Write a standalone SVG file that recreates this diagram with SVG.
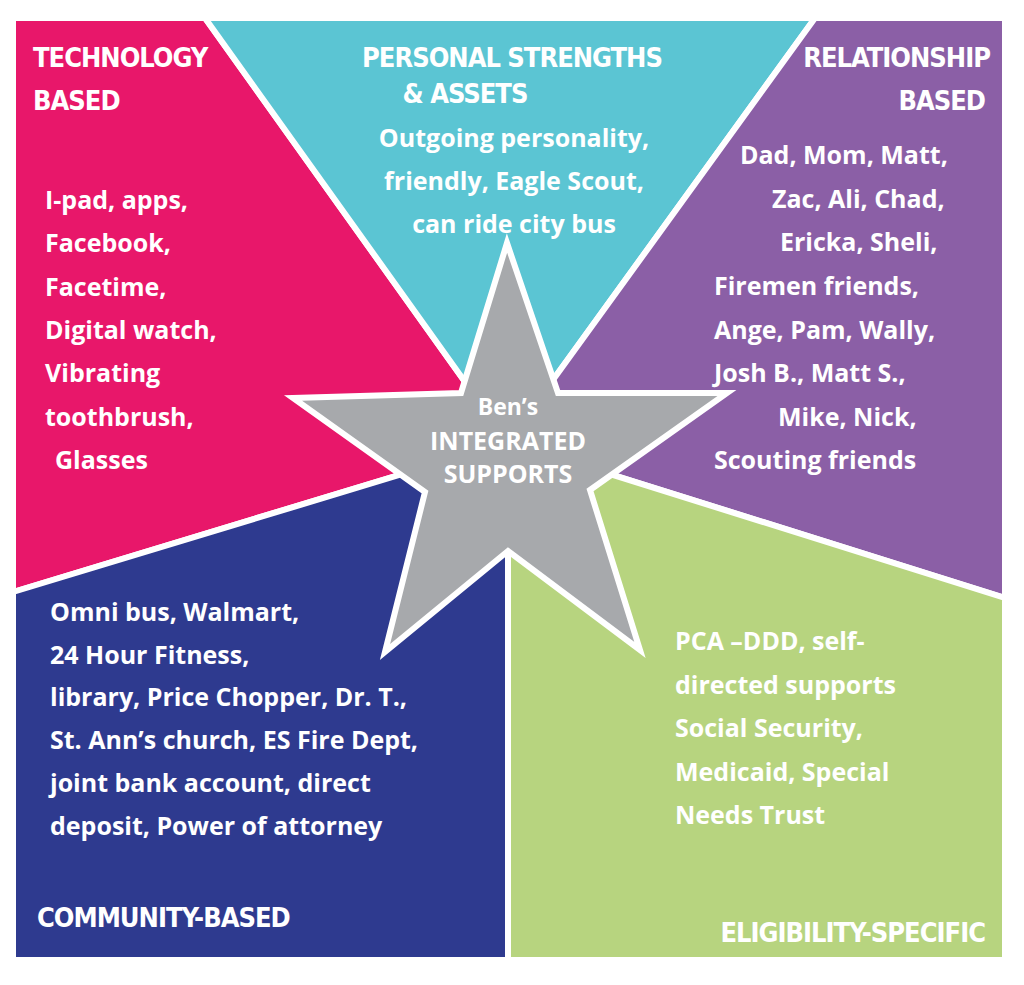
<svg xmlns="http://www.w3.org/2000/svg" width="1024" height="985" viewBox="0 0 1024 985">
<style>
.p{stroke:#fff;stroke-width:6;stroke-linejoin:miter}
.b{font-family:"Open Sans","DejaVu Sans",sans-serif;font-weight:bold;font-size:25px;fill:#fff}
.h{font-family:"DejaVu Sans Condensed","Liberation Sans Narrow",sans-serif;font-weight:bold;font-size:27px;fill:#fff;letter-spacing:-1px}
.s{font-family:"Open Sans","DejaVu Sans",sans-serif;font-weight:bold;fill:#fff;text-anchor:middle}
</style>
<rect width="1024" height="985" fill="#fff"/>
<g id="technology">
<polygon class="p" fill="#E8176A" points="13,18 205,18 508,442 13,592"/>
<text class="h" x="33" y="67">TECHNOLOGY</text>
<text class="h" x="33" y="110">BASED</text>
<text class="b" x="45" y="209">I-pad, apps,</text>
<text class="b" x="45" y="252">Facebook,</text>
<text class="b" x="45" y="296">Facetime,</text>
<text class="b" x="45" y="339">Digital watch,</text>
<text class="b" x="45" y="382">Vibrating</text>
<text class="b" x="45" y="426">toothbrush,</text>
<text class="b" x="55" y="469">Glasses</text>
</g>
<g id="personal">
<polygon class="p" fill="#5BC5D3" points="205,18 815,18 508,442"/>
<text class="h" x="512" y="67" text-anchor="middle">PERSONAL STRENGTHS</text>
<text class="h" x="465" y="103" text-anchor="middle">&amp; ASSETS</text>
<text class="b" x="514" y="147" text-anchor="middle">Outgoing personality,</text>
<text class="b" x="514" y="190" text-anchor="middle">friendly, Eagle Scout,</text>
<text class="b" x="514" y="233" text-anchor="middle">can ride city bus</text>
</g>
<g id="relationship">
<polygon class="p" fill="#8B5FA6" points="815,18 1005,18 1005,598 508,442"/>
<text class="h" x="990" y="67" text-anchor="end">RELATIONSHIP</text>
<text class="h" x="985" y="110" text-anchor="end">BASED</text>
<text class="b" x="740" y="164">Dad, Mom, Matt,</text>
<text class="b" x="772" y="208">Zac, Ali, Chad,</text>
<text class="b" x="780" y="251">Ericka, Sheli,</text>
<text class="b" x="714" y="295">Firemen friends,</text>
<text class="b" x="714" y="339">Ange, Pam, Wally,</text>
<text class="b" x="714" y="382">Josh B., Matt S.,</text>
<text class="b" x="778" y="426">Mike, Nick,</text>
<text class="b" x="714" y="469">Scouting friends</text>
</g>
<g id="eligibility">
<polygon class="p" fill="#B7D47F" points="508,442 1005,598 1005,960 508,960"/>
<text class="b" x="675" y="650">PCA –DDD, self-</text>
<text class="b" x="675" y="694">directed supports</text>
<text class="b" x="675" y="737">Social Security,</text>
<text class="b" x="675" y="781">Medicaid, Special</text>
<text class="b" x="675" y="824">Needs Trust</text>
<text class="h" x="985" y="942" text-anchor="end">ELIGIBILITY-SPECIFIC</text>
</g>
<g id="community">
<polygon class="p" fill="#2E3A8F" points="13,592 508,442 508,960 13,960"/>
<text class="b" x="50" y="621">Omni bus, Walmart,</text>
<text class="b" x="50" y="664">24 Hour Fitness,</text>
<text class="b" x="50" y="706">library, Price Chopper, Dr. T.,</text>
<text class="b" x="50" y="749">St. Ann’s church, ES Fire Dept,</text>
<text class="b" x="50" y="792">joint bank account,  direct</text>
<text class="b" x="50" y="835">deposit,  Power of  attorney</text>
<text class="h" x="37" y="927">COMMUNITY-BASED</text>
</g>
<g id="center">
<polygon fill="#A7A9AC" stroke="#fff" stroke-width="6" stroke-linejoin="miter" points="507,243 461,393 293,398 425,492 385,652 508,551 640,650 590,490 727,393 558,393"/>
<text class="s" x="508" y="415" font-size="23">Ben’s</text>
<text class="s" x="508" y="450" font-size="25">INTEGRATED</text>
<text class="s" x="508" y="483" font-size="25">SUPPORTS</text>
</g>
<g id="connectors"/>
</svg>
